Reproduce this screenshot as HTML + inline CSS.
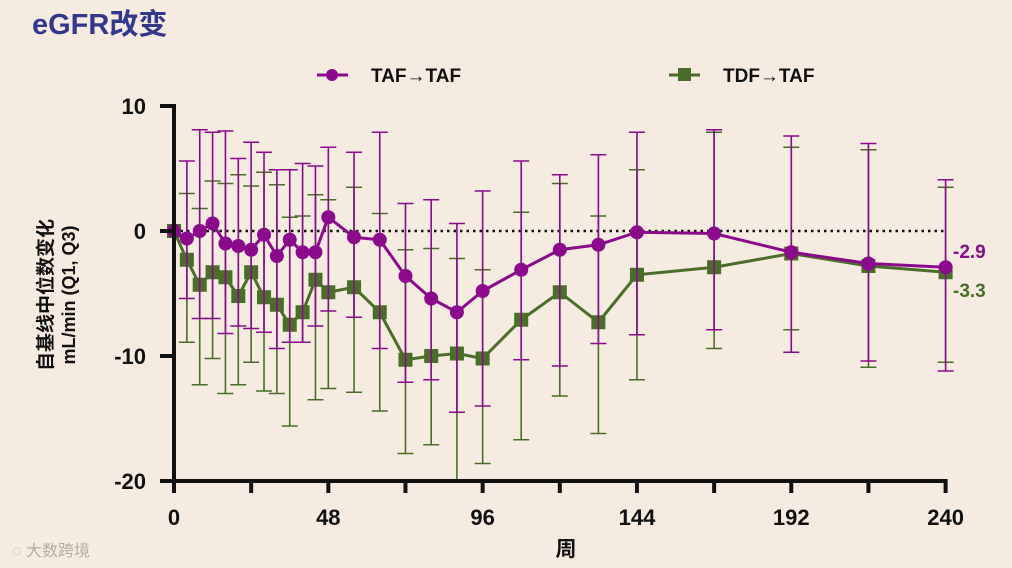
<!DOCTYPE html>
<html><head><meta charset="utf-8"><style>
body{margin:0;background:#f5ebe1;}
svg{display:block;font-family:"Liberation Sans","Noto Sans CJK SC",sans-serif;}
</style></head><body>
<svg id="chart" width="1012" height="568" viewBox="0 0 1012 568">
<rect width="1012" height="568" fill="#f5ebe1"/>
<text x="32" y="34" font-size="29" font-weight="bold" fill="#33388a">eGFR改变</text>
<g>
<line x1="317" y1="75" x2="348" y2="75" stroke="#8b0a8b" stroke-width="3"/>
<circle cx="332" cy="75" r="6" fill="#8b0a8b"/>
<text x="371" y="82" font-size="19" font-weight="bold" fill="#111">TAF→TAF</text>
</g>
<g>
<line x1="669" y1="75" x2="700" y2="75" stroke="#4a6e2a" stroke-width="3"/>
<rect x="678" y="68" width="13" height="13" fill="#4a6e2a"/>
<text x="723" y="82" font-size="19" font-weight="bold" fill="#111">TDF→TAF</text>
</g>
<g id="plot"></g>
<text x="566" y="556" font-size="21" font-weight="bold" text-anchor="middle" fill="#111">周</text>
<g transform="translate(52,295) rotate(-90)">
<text x="0" y="0" font-size="19" font-weight="bold" text-anchor="middle" fill="#111">自基线中位数变化</text>
<text x="0" y="23" font-size="18" font-weight="bold" text-anchor="middle" fill="#111">mL/min (Q1, Q3)</text>
</g>
<text x="953" y="258" font-size="19" font-weight="bold" fill="#8b0a8b">-2.9</text>
<text x="953" y="297" font-size="19" font-weight="bold" fill="#4a6e2a">-3.3</text>
<text x="12" y="556" font-size="16" fill="#b5aca4">◌ 大数跨境</text>
</svg>
<script>
const weeks=[0,4,8,12,16,20,24,28,32,36,40,44,48,56,64,72,80,88,96,108,120,132,144,168,192,216,240];
const tafMed=[0,-0.6,0,0.6,-1.0,-1.2,-1.5,-0.3,-2.0,-0.7,-1.7,-1.7,1.1,-0.5,-0.7,-3.6,-5.4,-6.5,-4.8,-3.1,-1.5,-1.1,-0.1,-0.2,-1.7,-2.6,-2.9];
const tafUp=[0,5.6,8.1,7.9,8.0,5.8,7.1,6.3,4.9,4.9,5.4,5.2,6.7,6.3,7.9,2.2,2.5,0.6,3.2,5.6,4.5,6.1,7.9,8.1,7.6,7.0,4.1];
const tafLo=[0,-5.4,-7.0,-7.0,-8.2,-7.6,-7.8,-8.1,-9.4,-8.9,-8.9,-7.6,-6.4,-6.9,-9.4,-12.1,-11.9,-14.5,-14.0,-10.3,-10.8,-9.0,-8.3,-7.9,-9.7,-10.4,-11.2];
const tdfMed=[0,-2.3,-4.3,-3.3,-3.7,-5.2,-3.3,-5.3,-5.9,-7.5,-6.5,-3.9,-4.9,-4.5,-6.5,-10.3,-10.0,-9.8,-10.2,-7.1,-4.9,-7.3,-3.5,-2.9,-1.8,-2.8,-3.3];
const tdfUp=[0,3.0,1.8,4.0,3.8,4.5,3.6,4.7,3.7,1.1,1.2,2.9,2.5,3.5,1.4,-1.5,-1.4,-2.2,-3.1,1.5,3.8,1.2,4.9,7.9,6.7,6.5,3.5];
const tdfLo=[0,-8.9,-12.3,-10.2,-13.0,-12.3,-10.5,-12.8,-13.0,-15.6,-8.9,-13.5,-12.6,-12.9,-14.4,-17.8,-17.1,-20,-18.6,-16.7,-13.2,-16.2,-11.9,-9.4,-7.9,-10.9,-10.5];
const yTicks=[10,0,-10,-20];
const xTicks=[0,24,48,72,96,120,144,168,192,216,240];
const xLabels=[0,48,96,144,192,240];

const NS="http://www.w3.org/2000/svg";
const X=w=>174+w*3.215;
const Y=v=>231-v*12.5;
const plot=document.getElementById('plot');
function mk(tag,attrs,parent){const e=document.createElementNS(NS,tag);for(const k in attrs)e.setAttribute(k,attrs[k]);(parent||plot).appendChild(e);return e;}

const zl=mk('line',{x1:X(0),y1:Y(0),x2:X(240),y2:Y(0),stroke:'#111','stroke-width':2.5,'stroke-dasharray':'2.5 4'});



function series(med,up,lo,color,shape,name){
  const g=mk('g',{});
  
  
  weeks.forEach((w,i)=>{
    if(i===0)return;
    const x=X(w);
    const eb=mk('g',{stroke:color,'stroke-width':1.6},g);
    
    
    const lo2=Math.max(lo[i],-20);
    mk('line',{x1:x,y1:Y(up[i]),x2:x,y2:Y(lo2)},eb);
    mk('line',{x1:x-8,y1:Y(up[i]),x2:x+8,y2:Y(up[i])},eb);
    if(lo[i]>-20)mk('line',{x1:x-8,y1:Y(lo[i]),x2:x+8,y2:Y(lo[i])},eb);
  });
  const pts=weeks.map((w,i)=>X(w)+','+Y(med[i])).join(' ');
  const pl=mk('polyline',{points:pts,fill:'none',stroke:color,'stroke-width':3},g);
  
  
  weeks.forEach((w,i)=>{
    let m;
    if(shape==='circle')m=mk('circle',{cx:X(w),cy:Y(med[i]),r:7,fill:color},g);
    else m=mk('rect',{x:X(w)-7,y:Y(med[i])-7,width:14,height:14,fill:color},g);
    
    
  });
}
series(tdfMed,tdfUp,tdfLo,'#4a6e2a','square','tdf-taf');
series(tafMed,tafUp,tafLo,'#8b0a8b','circle','taf-taf');

const ax=mk('g',{stroke:'#111','stroke-width':4,fill:'none'});


mk('line',{x1:174,y1:Y(10)-2,x2:174,y2:Y(-20)+2},ax);
mk('line',{x1:172,y1:Y(-20),x2:X(240)+2,y2:Y(-20)},ax);
yTicks.forEach(v=>{
  mk('line',{x1:160,y1:Y(v),x2:174,y2:Y(v)},ax);
  const t=mk('text',{x:146,y:Y(v)+8,'font-size':22,'font-weight':'bold','text-anchor':'end',fill:'#111'});
  t.textContent=v;
  
  
});
xTicks.forEach(w=>{
  mk('line',{x1:X(w),y1:Y(-20),x2:X(w),y2:Y(-20)+12},ax);
});
xLabels.forEach(w=>{
  const t=mk('text',{x:X(w),y:525,'font-size':22,'font-weight':'bold','text-anchor':'middle',fill:'#111'});
  t.textContent=w;
  
  
});
</script>
</body></html>
